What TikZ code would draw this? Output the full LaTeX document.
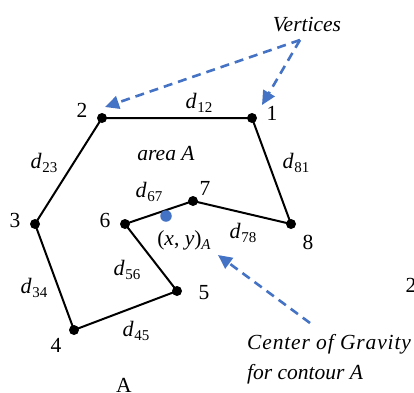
\documentclass[tikz,border=0pt]{standalone}
\usepackage{fontspec}
\setmainfont{Liberation Serif}
\usetikzlibrary{arrows.meta}
\definecolor{cblue}{RGB}{68,114,196}
\newcommand\subtxt[1]{\raisebox{-4.5pt}{\fontsize{15}{15}\selectfont#1}}
\newcommand\dsub[1]{{\fontsize{22}{22}\selectfont\textit{d}}\kern0.5pt\subtxt{#1}}
\begin{document}
\begin{tikzpicture}[x=1pt,y=-1pt,
  font=\fontsize{21.5}{30}\selectfont,
  dot/.style={circle, fill=black, inner sep=0pt, minimum size=10pt},
  cog/.style={circle, fill=cblue, inner sep=0pt, minimum size=11.5pt},
  edge/.style={line width=2pt, line join=round},
  ptr/.style={cblue, line width=2.6pt, dash pattern=on 9pt off 6pt,
    -{Triangle[length=14pt,width=13pt]}},
  lbl/.style={inner sep=0pt}]
\useasboundingbox (0,0) rectangle (414,392);
% vertex positions
\coordinate (p1) at (252,118);
\coordinate (p2) at (102,118);
\coordinate (p3) at (35,224);
\coordinate (p4) at (74,330);
\coordinate (p5) at (177,291);
\coordinate (p6) at (125,224);
\coordinate (p7) at (193,201);
\coordinate (p8) at (291,224);
% contour
\draw[edge] (p1)--(p2)--(p3)--(p4)--(p5)--(p6)--(p7)--(p8)--cycle;
% vertex dots
\foreach \i in {1,...,8} { \node[dot] (v\i) at (p\i) {}; }
% centre of gravity
\node[cog] (cg) at (166,216) {};
% vertex labels
\node[lbl] (l1) at (272,113) {1};
\node[lbl] (l2) at (82,110) {2};
\node[lbl] (l3) at (15,220) {3};
\node[lbl] (l4) at (56,345) {4};
\node[lbl] (l5) at (204,293) {5};
\node[lbl] (l6) at (105,220) {6};
\node[lbl] (l7) at (205,188) {7};
\node[lbl] (l8) at (308,242) {8};
% edge labels
\node[lbl] (d12) at (199,103) {\dsub{12}};
\node[lbl] (d23) at (44,163) {\dsub{23}};
\node[lbl] (d81) at (296,163) {\dsub{81}};
\node[lbl] (d67) at (149,192) {\dsub{67}};
\node[lbl] (d78) at (243,233) {\dsub{78}};
\node[lbl] (d56) at (127,270) {\dsub{56}};
\node[lbl] (d34) at (34,288) {\dsub{34}};
\node[lbl] (d45) at (136,331) {\dsub{45}};
% other texts
\node[lbl] (area) at (166,154) {\textit{area A}};
\node[lbl] (xy) at (184,240) {(\textit{x}, \textit{y})\subtxt{\textit{A}}};
\node[lbl, anchor=base] (vert) at (307,31) {\textit{Vertices}};
\node[lbl, anchor=north west, align=left] (cgt) at (247,334)
  {{\addfontfeature{LetterSpace=4}\textit{Center of Gravity}}\\\textit{for contour A}};
\node[lbl, anchor=base] (capA) at (124,392.5) {A};
\node[lbl, anchor=base] (cut2) at (411,292) {2};
% pointers
\coordinate (vsrc) at (300,40);
\coordinate (t2) at (105,107);
\coordinate (t1) at (262,105);
\draw[ptr] (vsrc) -- (t2);
\draw[ptr] (vsrc) -- (t1);
\coordinate (csrc) at (310,323);
\coordinate (tc) at (218,255);
\draw[ptr] (csrc) -- (tc);
\end{tikzpicture}
\end{document}
